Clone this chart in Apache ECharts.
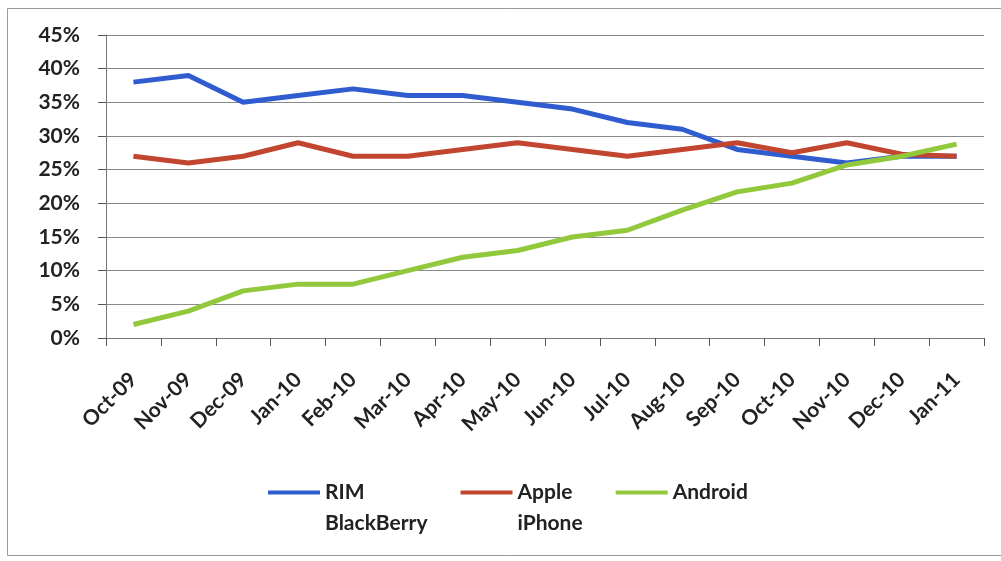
<!DOCTYPE html>
<html><head><meta charset="utf-8">
<script src="https://cdn.jsdelivr.net/npm/echarts@6/dist/echarts.min.js"></script>
<style>html,body{margin:0;padding:0;background:#fff}#c{width:1001px;height:561px}</style>
</head><body><div id="c"></div>
<script>
const categories = ['Oct-09','Nov-09','Dec-09','Jan-10','Feb-10','Mar-10','Apr-10','May-10','Jun-10','Jul-10','Aug-10','Sep-10','Oct-10','Nov-10','Dec-10','Jan-11'];
const rimBlackBerry = [38, 39, 35, 36, 37, 36, 36, 35, 34, 32, 31, 28, 27, 26, 27, 27];
const appleIPhone   = [27, 26, 27, 29, 27, 27, 28, 29, 28, 27, 28, 29, 27.5, 29, 27.3, 27];
const android       = [2, 4, 7, 8, 8, 10, 12, 13, 15, 16, 19, 21.7, 23, 25.7, 27, 28.8];
const seriesNames = ['RIM BlackBerry', 'Apple iPhone', 'Android'];
const legendLabels = [' \nRIM\nBlackBerry', ' \nApple\niPhone', 'Android'];
const yTicks = [0, 5, 10, 15, 20, 25, 30, 35, 40, 45];

const font = 'Lato, "Open Sans", sans-serif';
const chart = echarts.init(document.getElementById('c'), null, {renderer: 'canvas'});
const colors = ['#2f5ccf', '#c2452f', '#92c83c'];
chart.setOption({
  animation: false,
  backgroundColor: '#fff',
  graphic: [{type: 'rect', shape: {x: 7.5, y: 8.5, width: 1010, height: 547}, style: {fill: 'none', stroke: '#9a9a9a', lineWidth: 1}}],
  grid: {left: 106, right: 17, top: 35, bottom: 223},
  legend: {
    top: 446, left: 268, padding: 0, itemWidth: 52, itemHeight: 4, itemGap: 33,
    icon: 'rect',
    formatter: function (name) { return legendLabels[seriesNames.indexOf(name)]; },
    textStyle: {fontFamily: font, fontWeight: 'bold', fontSize: 21, color: '#222', lineHeight: 31},
    data: seriesNames
  },
  xAxis: {
    type: 'category', data: categories, boundaryGap: true,
    axisLine: {lineStyle: {color: '#777', width: 1}},
    axisTick: {show: true, length: 8, lineStyle: {color: '#555'}},
    axisLabel: {rotate: 45, margin: 38, fontFamily: font, fontWeight: 'bold', fontSize: 21, color: '#222'}
  },
  yAxis: {
    type: 'value', min: yTicks[0], max: yTicks[yTicks.length - 1], interval: 5,
    axisLine: {show: true, lineStyle: {color: '#777'}},
    axisTick: {show: true, length: 8, lineStyle: {color: '#555'}},
    axisLabel: {formatter: '{value}%', margin: 26, fontFamily: font, fontWeight: 'bold', fontSize: 21, color: '#222'},
    splitLine: {lineStyle: {color: '#8a8a8a', width: 1}}
  },
  series: [
    {name: seriesNames[0], type: 'line', data: rimBlackBerry, showSymbol: false, lineStyle: {width: 5, color: colors[0]}, itemStyle: {color: colors[0]}},
    {name: seriesNames[1], type: 'line', data: appleIPhone, showSymbol: false, lineStyle: {width: 5, color: colors[1]}, itemStyle: {color: colors[1]}},
    {name: seriesNames[2], type: 'line', data: android, showSymbol: false, lineStyle: {width: 5, color: colors[2]}, itemStyle: {color: colors[2]}}
  ]
});
</script></body></html>
